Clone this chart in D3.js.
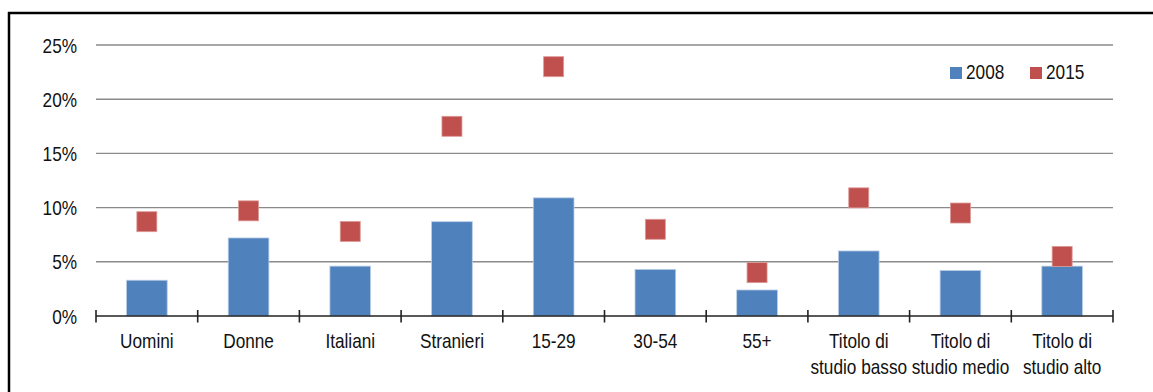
<!DOCTYPE html>
<html>
<head>
<meta charset="utf-8">
<script src="https://cdn.jsdelivr.net/npm/d3@7"></script>
<style>
  html, body { margin: 0; padding: 0; background: #fff; }
  svg { display: block; }
  text { font-family: "Liberation Sans", Arial, sans-serif; font-size: 21px; fill: #111; }
</style>
</head>
<body>
<svg id="chart" width="1153" height="392"></svg>
<script>
// Categories (label lines) and unemployment rates, in percent
const categories = [
  ["Uomini"], ["Donne"], ["Italiani"], ["Stranieri"], ["15-29"],
  ["30-54"], ["55+"], ["Titolo di", "studio basso"], ["Titolo di", "studio medio"], ["Titolo di", "studio alto"]
];
const values2008 = [3.3, 7.2, 4.6, 8.7, 10.9, 4.3, 2.4, 6.0, 4.2, 4.6];
const values2015 = [8.7, 9.7, 7.8, 17.5, 23.0, 8.0, 4.0, 10.9, 9.5, 5.5];
const yTicks = [0, 5, 10, 15, 20, 25];
const seriesNames = ["2008", "2015"];

const BLUE = "#4f81bd", RED = "#c0504d";
const NARROW = 0.82; // horizontal squeeze giving a narrow sans look
const svg = d3.select("#chart");

// Places a narrow-looking text at (x, y) with the given anchor
function narrowText(parent, x, y, str, anchor, dy) {
  const g = parent.append("g").attr("transform", `translate(${x},${y}) scale(${NARROW},1)`);
  const t = g.append("text").attr("text-anchor", anchor || "start").text(str);
  if (dy) t.attr("dy", dy);
  return t;
}

// Outer frame (top and left edges)
svg.append("line").attr("x1", 8).attr("x2", 1153).attr("y1", 13).attr("y2", 13)
  .attr("stroke", "#000").attr("stroke-width", 2.5);
svg.append("line").attr("x1", 9).attr("x2", 9).attr("y1", 12).attr("y2", 392)
  .attr("stroke", "#000").attr("stroke-width", 2.5);

const keys = categories.map((c, i) => String(i));
const x = d3.scaleBand().domain(keys).range([96, 1113]).padding(0);
const y = d3.scaleLinear().domain([0, 25]).range([316, 45]);

// Horizontal gridlines
svg.append("g").selectAll("line").data(yTicks.filter(t => t > 0)).join("line")
  .attr("x1", 96).attr("x2", 1113)
  .attr("y1", d => y(d)).attr("y2", d => y(d))
  .attr("stroke", "#8a8a8a").attr("stroke-width", 1.4);

// Y tick labels
const yLab = svg.append("g");
yTicks.forEach(t => narrowText(yLab, 77, y(t), t + "%", "end", "0.36em"));

// 2008 bars
const barW = x.bandwidth() * 0.4;
svg.append("g").selectAll("rect").data(values2008).join("rect")
  .attr("x", (d, i) => x(keys[i]) + (x.bandwidth() - barW) / 2)
  .attr("width", barW)
  .attr("y", d => y(d))
  .attr("height", d => y(0) - y(d))
  .attr("fill", BLUE)
  .attr("stroke", "#b9cde6").attr("stroke-width", 0.8);

// X axis baseline with crossing tick marks
svg.append("line").attr("x1", 96).attr("x2", 1113).attr("y1", y(0)).attr("y2", y(0))
  .attr("stroke", "#222").attr("stroke-width", 1.6);
const edges = keys.map(k => x(k)).concat([x.range()[1]]);
svg.append("g").selectAll("line").data(edges).join("line")
  .attr("x1", d => d).attr("x2", d => d)
  .attr("y1", y(0) - 6).attr("y2", y(0) + 6.5)
  .attr("stroke", "#222").attr("stroke-width", 1.6);

// 2015 square markers
const sq = 20;
svg.append("g").selectAll("rect").data(values2015).join("rect")
  .attr("x", (d, i) => x(keys[i]) + x.bandwidth() / 2 - sq / 2)
  .attr("y", d => y(d) - sq / 2)
  .attr("width", sq).attr("height", sq)
  .attr("fill", RED)
  .attr("stroke", "#dc9a98").attr("stroke-width", 0.8);

// Category labels
const xLab = svg.append("g");
categories.forEach((lines, i) => {
  const cx = x(keys[i]) + x.bandwidth() / 2;
  lines.forEach((ln, j) => narrowText(xLab, cx, 348 + j * 26, ln, "middle"));
});

// Legend
const legend = svg.append("g");
const legendItems = [
  { name: seriesNames[0], color: BLUE, x: 950 },
  { name: seriesNames[1], color: RED, x: 1030 }
];
legendItems.forEach(it => {
  legend.append("rect").attr("x", it.x).attr("y", 67).attr("width", 12).attr("height", 12)
    .attr("fill", it.color);
  narrowText(legend, it.x + 16, 79, it.name, "start");
});
</script>
</body>
</html>
